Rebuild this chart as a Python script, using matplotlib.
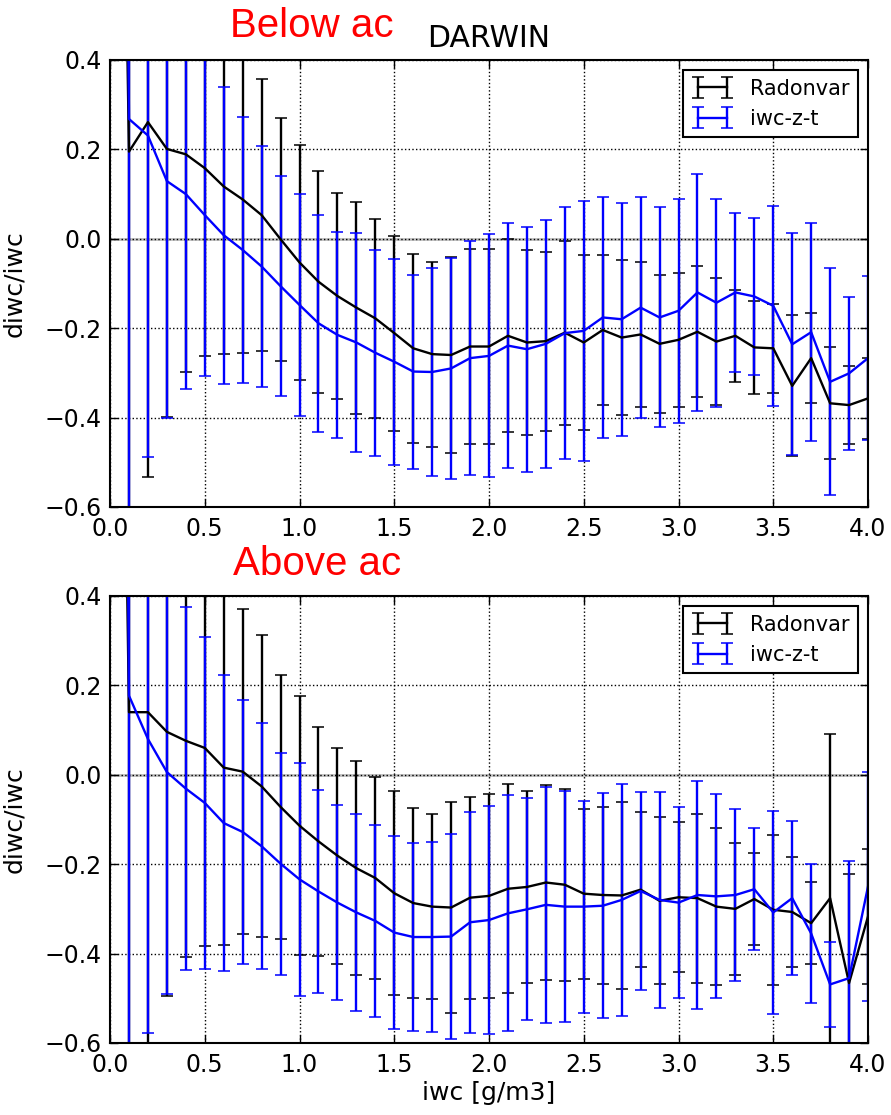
import numpy as np
import matplotlib
matplotlib.use("Agg")
import matplotlib.pyplot as plt

# iwc bins (g/m3)
iwc = np.linspace(0.0, 4.0, 41)

# ---- Below ac ----
below_radon = [2.8,
               0.195, 0.261, 0.201, 0.189, 0.158, 0.117, 0.088, 0.053, -0.001, -0.053,
               -0.096, -0.128, -0.154, -0.178, -0.211, -0.245, -0.258, -0.260, -0.241, -0.241,
               -0.217, -0.232, -0.229, -0.210, -0.232, -0.204, -0.221, -0.214, -0.235, -0.226,
               -0.208, -0.230, -0.217, -0.243, -0.245, -0.329, -0.267, -0.368, -0.372, -0.357]
below_radon_err = [0.0,
                   0.85, 0.795, 0.599, 0.487, 0.421, 0.375, 0.344, 0.304, 0.272, 0.262,
                   0.248, 0.230, 0.237, 0.223, 0.218, 0.212, 0.207, 0.219, 0.218, 0.218,
                   0.216, 0.207, 0.200, 0.206, 0.196, 0.167, 0.173, 0.163, 0.154, 0.150,
                   0.147, 0.142, 0.103, 0.104, 0.100, 0.158, 0.100, 0.125, 0.087, 0.090]
below_iwczt = [5.0,
               0.268, 0.231, 0.129, 0.100, 0.053, 0.008, -0.025, -0.062, -0.106, -0.148,
               -0.189, -0.215, -0.232, -0.255, -0.275, -0.297, -0.298, -0.290, -0.267, -0.262,
               -0.239, -0.247, -0.235, -0.211, -0.206, -0.176, -0.180, -0.154, -0.176, -0.161,
               -0.120, -0.143, -0.120, -0.129, -0.150, -0.236, -0.209, -0.320, -0.301, -0.267]
below_iwczt_err = [0.0,
                   0.95, 0.719, 0.529, 0.435, 0.361, 0.332, 0.298, 0.270, 0.246, 0.248,
                   0.243, 0.231, 0.245, 0.230, 0.230, 0.217, 0.232, 0.248, 0.261, 0.272,
                   0.274, 0.274, 0.278, 0.281, 0.291, 0.270, 0.261, 0.247, 0.246, 0.251,
                   0.265, 0.233, 0.178, 0.175, 0.224, 0.248, 0.244, 0.254, 0.171, 0.183]

# ---- Above ac ----
above_radon = [3.0,
               0.140, 0.140, 0.096, 0.076, 0.060, 0.016, 0.007, -0.026, -0.072, -0.114,
               -0.149, -0.181, -0.209, -0.231, -0.265, -0.287, -0.295, -0.297, -0.275, -0.271,
               -0.255, -0.251, -0.241, -0.246, -0.266, -0.269, -0.270, -0.257, -0.282, -0.274,
               -0.276, -0.295, -0.300, -0.278, -0.302, -0.307, -0.332, -0.276, -0.466, -0.317]
above_radon_err = [0.0,
                   0.85, 0.80, 0.592, 0.484, 0.444, 0.397, 0.364, 0.338, 0.296, 0.290,
                   0.256, 0.242, 0.240, 0.225, 0.228, 0.213, 0.207, 0.236, 0.226, 0.228,
                   0.234, 0.215, 0.218, 0.215, 0.190, 0.198, 0.210, 0.173, 0.187, 0.168,
                   0.189, 0.175, 0.147, 0.103, 0.168, 0.122, 0.091, 0.368, 0.244, 0.150]
above_iwczt = [6.0,
               0.177, 0.080, 0.006, -0.031, -0.063, -0.108, -0.128, -0.160, -0.199, -0.234,
               -0.261, -0.286, -0.308, -0.327, -0.353, -0.363, -0.363, -0.362, -0.330, -0.325,
               -0.310, -0.301, -0.291, -0.295, -0.295, -0.293, -0.280, -0.260, -0.280, -0.286,
               -0.269, -0.272, -0.269, -0.256, -0.308, -0.276, -0.355, -0.469, -0.455, -0.250]
above_iwczt_err = [0.0,
                   0.95, 0.658, 0.497, 0.406, 0.372, 0.332, 0.296, 0.275, 0.248, 0.260,
                   0.228, 0.218, 0.221, 0.214, 0.215, 0.210, 0.213, 0.229, 0.247, 0.255,
                   0.264, 0.248, 0.264, 0.259, 0.237, 0.252, 0.260, 0.222, 0.242, 0.214,
                   0.255, 0.228, 0.192, 0.137, 0.228, 0.172, 0.156, 0.095, 0.263, 0.256]


def panel(ax, radon, radon_err, iwczt, iwczt_err):
    ax.axhline(0, color='0.75', lw=2, zorder=1)
    ax.errorbar(iwc, radon, yerr=radon_err, color='k', lw=1.7, elinewidth=1.7,
                capsize=4.5, capthick=1.1, label='Radonvar')
    ax.errorbar(iwc, iwczt, yerr=iwczt_err, color='b', lw=1.7, elinewidth=1.7,
                capsize=4.5, capthick=1.1, label='iwc-z-t')
    ax.set_xlim(0, 4)
    ax.set_ylim(-0.6, 0.4)
    ax.set_xticks(np.arange(0, 4.01, 0.5))
    ax.set_yticks(np.arange(-0.6, 0.41, 0.2))
    ax.xaxis.set_major_formatter(plt.FormatStrFormatter('%.1f'))
    ax.yaxis.set_major_formatter(plt.FuncFormatter(lambda v, p: ('%.1f' % v).replace('-', '\u2212')))
    ax.grid(True, ls=':', color='k', lw=1)
    ax.tick_params(direction='in', top=True, right=True, length=6, width=1,
                   labelsize=17)
    ax.tick_params(axis='x', pad=7)
    ax.tick_params(axis='y', pad=6)
    for s in ax.spines.values():
        s.set_linewidth(1.5)
    ax.set_ylabel('diwc/iwc', fontsize=18)
    ax.yaxis.set_label_coords(-0.111, 0.5)
    leg = ax.legend(loc='upper right', numpoints=2, fontsize=15, fancybox=False,
                    edgecolor='k', framealpha=1, borderaxespad=0.5)
    leg.get_frame().set_linewidth(1.5)


fig = plt.figure(figsize=(8.91, 11.15), dpi=100)
ax1 = fig.add_axes([0.1235, 0.5453, 0.8507, 0.4009])
ax2 = fig.add_axes([0.1235, 0.0646, 0.8507, 0.4009])

panel(ax1, below_radon, below_radon_err, below_iwczt, below_iwczt_err)
panel(ax2, above_radon, above_radon_err, above_iwczt, above_iwczt_err)

ax1.set_title('DARWIN', fontsize=21.5, pad=9)
ax2.set_xlabel('iwc [g/m3]', fontsize=18)
ax2.xaxis.set_label_coords(0.5, -0.085)

fig.text(230 / 891, 1 - 37 / 1115, 'Below ac', color='red', fontsize=29,
         family='Liberation Sans', va='baseline')
fig.text(233 / 891, 1 - 575 / 1115, 'Above ac', color='red', fontsize=29,
         family='Liberation Sans', va='baseline')

fig.savefig('out.png', dpi=100)
